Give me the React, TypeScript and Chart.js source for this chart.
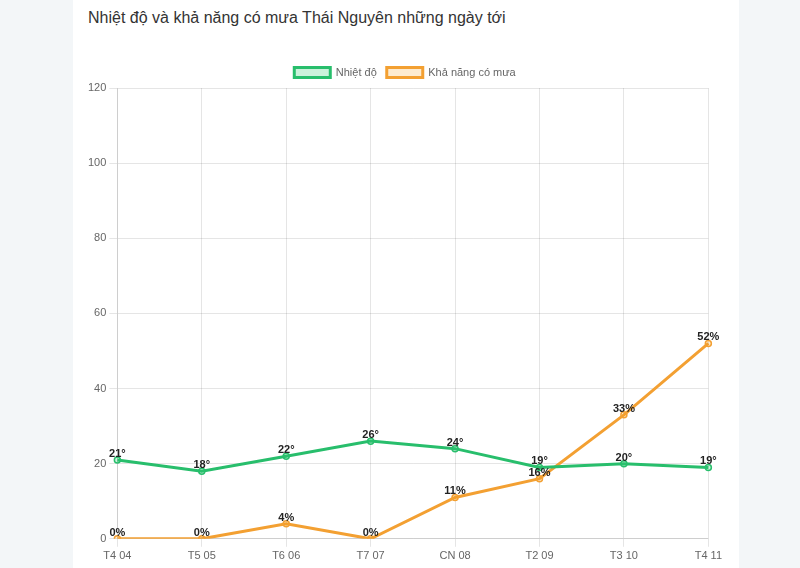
import React, { useEffect, useRef } from "react";
import { Chart, registerables } from "chart.js";

Chart.register(...registerables);

const categories = ["T4 04", "T5 05", "T6 06", "T7 07", "CN 08", "T2 09", "T3 10", "T4 11"];
const temperature = [21, 18, 22, 26, 24, 19, 20, 19];
const rainChance = [0, 0, 4, 0, 11, 16, 33, 52];
const seriesNames = ["Nhiệt độ", "Khả năng có mưa"];
const suffixes = ["°", "%"];
const titleText = "Nhiệt độ và khả năng có mưa Thái Nguyên những ngày tới";

const GREEN = "rgb(40, 190, 108)";
const GREEN_FILL = "rgba(46, 204, 113, 0.25)";
const ORANGE = "rgb(243, 160, 50)";
const ORANGE_FILL = "rgba(243, 156, 18, 0.2)";

const labelPlugin = {
  id: "valueLabels",
  afterDatasetsDraw(chart: any) {
    const ctx = chart.ctx;
    ctx.save();
    ctx.font = "bold 11px Arial, 'Liberation Sans', sans-serif";
    ctx.fillStyle = "#222";
    ctx.textAlign = "center";
    ctx.textBaseline = "alphabetic";
    chart.data.datasets.forEach((ds: any, i: number) => {
      const meta = chart.getDatasetMeta(i);
      meta.data.forEach((pt: any, j: number) => {
        ctx.fillText(String(ds.data[j]) + suffixes[i], pt.x, pt.y - 3);
      });
    });
    ctx.restore();
  },
};

export default function App() {
  const ref = useRef<HTMLCanvasElement | null>(null);
  useEffect(() => {
    if (!ref.current) return;
    Chart.defaults.font.family = "Arial, 'Liberation Sans', sans-serif";
    const chart = new Chart(ref.current, {
      type: "line",
      data: {
        labels: categories,
        datasets: [
          {
            label: seriesNames[0],
            data: temperature,
            borderColor: GREEN,
            backgroundColor: GREEN_FILL,
            pointBackgroundColor: GREEN_FILL,
            pointBorderColor: GREEN,
            borderWidth: 3,
            pointRadius: 3,
            pointBorderWidth: 1.5,
            tension: 0,
            fill: false,
          },
          {
            label: seriesNames[1],
            data: rainChance,
            borderColor: ORANGE,
            backgroundColor: ORANGE_FILL,
            pointBackgroundColor: ORANGE_FILL,
            pointBorderColor: ORANGE,
            borderWidth: 3,
            pointRadius: 3,
            pointBorderWidth: 1.5,
            tension: 0,
            fill: false,
          },
        ],
      },
      options: {
        animation: false,
        responsive: false,
        maintainAspectRatio: false,
        plugins: {
          legend: {
            labels: { font: { size: 11 }, color: "#666", boxWidth: 36, boxHeight: 10 },
          },
          tooltip: { enabled: false },
        },
        scales: {
          x: {
            ticks: { font: { size: 11 }, color: "#666" },
            grid: { color: "rgba(0,0,0,0.1)" },
          },
          y: {
            min: 0,
            max: 120,
            ticks: { stepSize: 20, font: { size: 11 }, color: "#666" },
            grid: { color: "rgba(0,0,0,0.1)" },
          },
        },
      },
      plugins: [labelPlugin],
    });
    return () => chart.destroy();
  }, []);

  return (
    <div style={{ position: "fixed", left: 0, top: 0, width: 800, height: 568, background: "#f3f6f8", overflow: "hidden" }}>
      <div style={{ position: "absolute", left: 73, top: 0, width: 666, height: 568, background: "#fff" }}>
        <div
          style={{
            position: "absolute",
            left: 15,
            top: 9,
            fontFamily: "Arial, 'Liberation Sans', sans-serif",
            fontSize: 16,
            color: "#333",
            whiteSpace: "nowrap",
          }}
        >
          {titleText}
        </div>
      </div>
      <canvas ref={ref} width={640} height={509} style={{ position: "absolute", left: 85, top: 57 }} />
    </div>
  );
}
